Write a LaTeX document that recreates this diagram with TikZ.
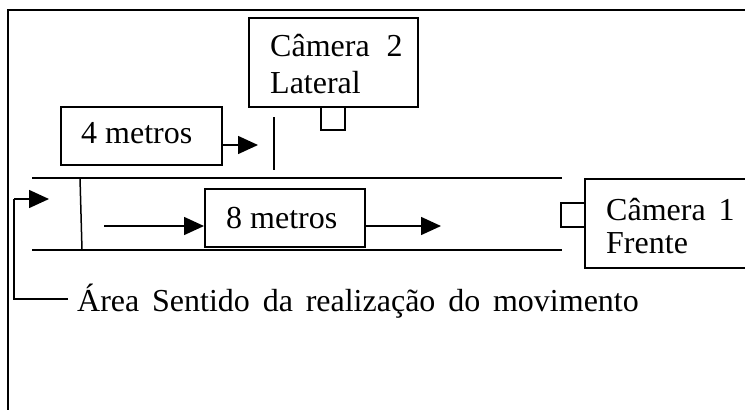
\documentclass[tikz,border=0pt]{standalone}
\usepackage{fontspec}
\setmainfont{Liberation Serif}
\usetikzlibrary{arrows.meta}
\newcommand{\wsp}[1]{\hspace{#1}}
\begin{document}
\begin{tikzpicture}[x=1pt,y=-1pt,
  ln/.style={line width=1.5pt},
  box/.style={draw,line width=1.5pt,anchor=north west,inner sep=0pt,minimum width=#1},
  lbl/.style={anchor=base west,inner sep=0pt,font={\fontsize{32}{36}\selectfont}},
  arr/.style={line width=1.5pt,-{Triangle[length=20pt,width=18pt]}}]
\useasboundingbox (0,0) rectangle (745,410);
% frame
\draw[ln] (8,411) -- (8,10) -- (746,10);
% camera 2
\node[box=169pt,minimum height=89pt] (cam2) at (248,17) {};
\node[lbl] (c2a) at (270,56) {Câmera\wsp{17pt}2};
\node[lbl] (c2b) at (270,93) {Lateral};
\node[box=24pt,minimum height=23pt] (sq2) at (320,106) {};
% 4 metros
\node[box=161pt,minimum height=58pt] (m4) at (60,106) {};
\node[lbl] (t4) at (81,143) {4 metros};
\coordinate (m4tip) at (258,145);
\draw[arr] (m4.east |- m4tip) -- (m4tip);
\coordinate (tk1) at (274,117);
\coordinate (tk2) at (274,170);
\draw[ln] (tk1) -- (tk2);
% lane
\coordinate (lt1) at (32,178); \coordinate (lt2) at (562,178);
\coordinate (lb1) at (32,250); \coordinate (lb2) at (562,250);
\draw[ln] (lt1) -- (lt2);
\draw[ln] (lb1) -- (lb2);
\coordinate (v1) at (80,178); \coordinate (v2) at (82,250);
\draw[ln] (v1) -- (v2);
% 8 metros
\node[box=160pt,minimum height=58pt] (m8) at (204,188) {};
\node[lbl] (t8) at (226,228) {8 metros};
\coordinate (a8s) at (104,226);
\coordinate (a8e) at (441,226);
\draw[arr] (a8s) -- (m8.west |- a8s);
\draw[arr] (m8.east |- a8e) -- (a8e);
% camera 1
\node[box=170pt,minimum height=89pt] (cam1) at (584,178) {};
\node[lbl] (c1a) at (606,220) {Câmera\wsp{13pt}1};
\node[lbl] (c1b) at (606,253) {Frente};
\node[box=24pt,minimum height=24pt] (sq1) at (560,202) {};
% area label
\node[lbl] (area) at (77,311) {Área\wsp{12.8pt}Sentido\wsp{12.8pt}da\wsp{12.8pt}realização\wsp{12.8pt}do\wsp{12.8pt}movimento};
\coordinate (br1) at (14,299);
\coordinate (br2) at (14,199);
\coordinate (brtip) at (49,199);
\draw[ln] (area.west |- br1) ++(-9,0) -- (br1) -- (br2);
\draw[arr] (br2) -- (brtip);
\end{tikzpicture}
\end{document}
